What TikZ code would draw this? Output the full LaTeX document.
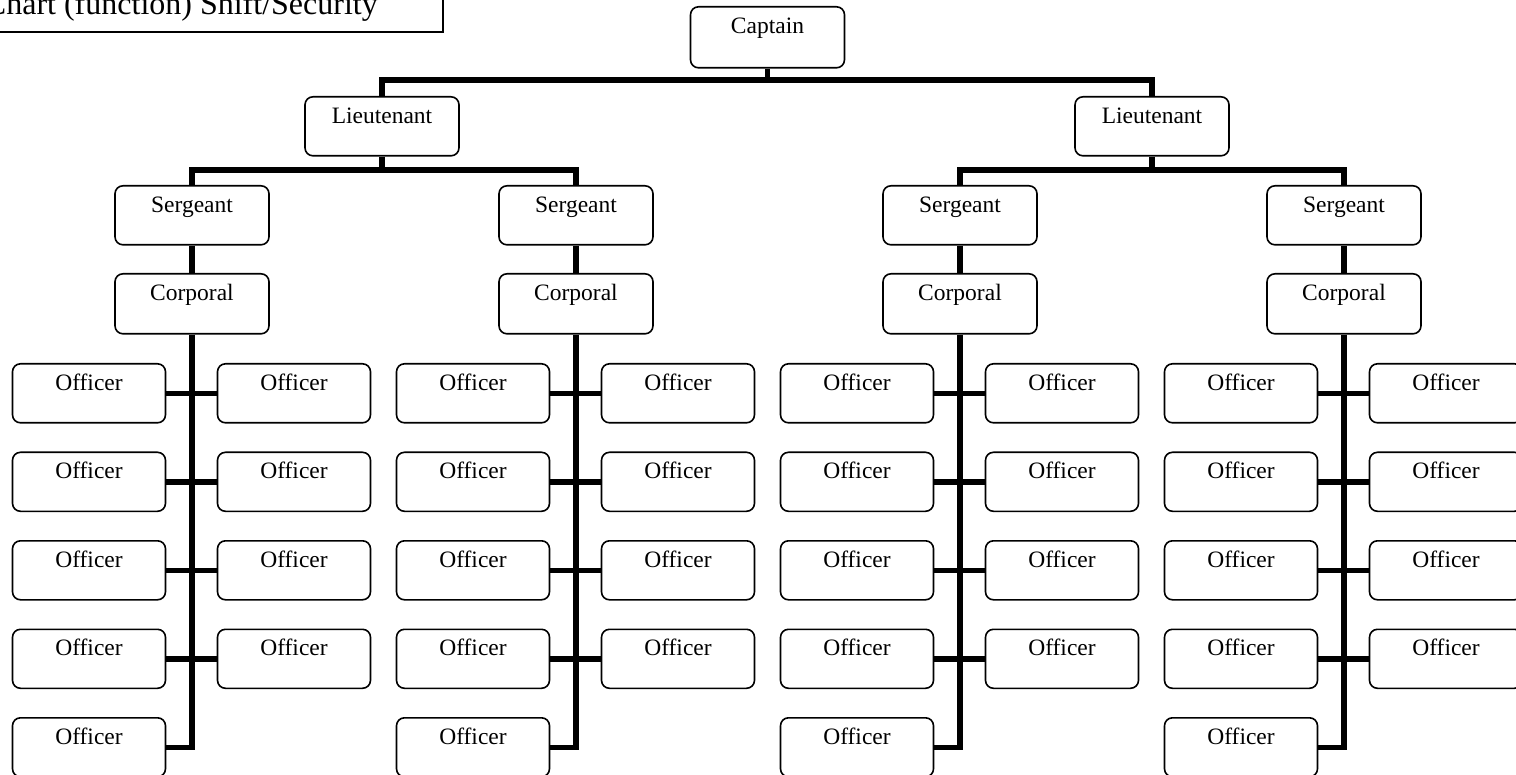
\documentclass[tikz,border=0pt]{standalone}
\usepackage{fontspec}
\setmainfont{Liberation Serif}
\begin{document}
\begin{tikzpicture}[x=1pt,y=-1pt,
  box/.style={draw, line width=1.6pt, rounded corners=8pt, inner sep=0pt,
    minimum width=154pt, text height=26.5pt, text depth=32.5pt, anchor=north,
    font=\fontsize{23.5}{28}\selectfont},
  capbox/.style={box, text height=27pt, text depth=34pt},
  conn/.style={line width=5.5pt, line join=miter}]
\useasboundingbox (0,0) rectangle (1516,775);
% title
\draw[line width=1.6pt] (-5,-5) rectangle (443,32);
\node[anchor=base east, inner sep=0pt, font=\fontsize{32}{36}\selectfont] (title) at (378,15) {Chart (function) Shift/Security};
% captain and lieutenants
\node[capbox] (cap) at (767.5,6) {Captain};
\node[box] (lt1) at (382,96) {Lieutenant};
\node[box] (lt2) at (1152,96) {Lieutenant};
\coordinate (b0) at (767.5,80);
\draw[conn] (lt1.north) |- (b0) -| (lt2.north);
\draw[conn] (cap.south) -- (b0);
% sergeant bars
\coordinate (b1) at (382,170);
\coordinate (b2) at (1152,170);
\foreach \g/\tx in {1/192,2/576,3/960,4/1344}{
  \node[box] (sg\g) at (\tx,185) {Sergeant};
  \node[box, text height=26.5pt, text depth=33.5pt] (cp\g) at (\tx,273) {Corporal};
  \draw[conn] (sg\g.south) -- (cp\g.north);
  \foreach \r in {1,...,5}{
    \pgfmathsetmacro{\ty}{363+88.5*(\r-1)}
    \node[box, minimum width=153pt] (o\g L\r) at (\tx-103,\ty) {Officer};
  }
  \foreach \r in {1,...,4}{
    \pgfmathsetmacro{\ty}{363+88.5*(\r-1)}
    \node[box, minimum width=153pt] (o\g R\r) at (\tx+102,\ty) {Officer};
    \draw[conn] (o\g L\r.east) -- (o\g R\r.west);
  }
  \draw[conn] (cp\g.south) |- (o\g L5.east);
}
\draw[conn] (sg1.north) |- (b1) -| (sg2.north);
\draw[conn] (lt1.south) -- (b1);
\draw[conn] (sg3.north) |- (b2) -| (sg4.north);
\draw[conn] (lt2.south) -- (b2);
\end{tikzpicture}
\end{document}
